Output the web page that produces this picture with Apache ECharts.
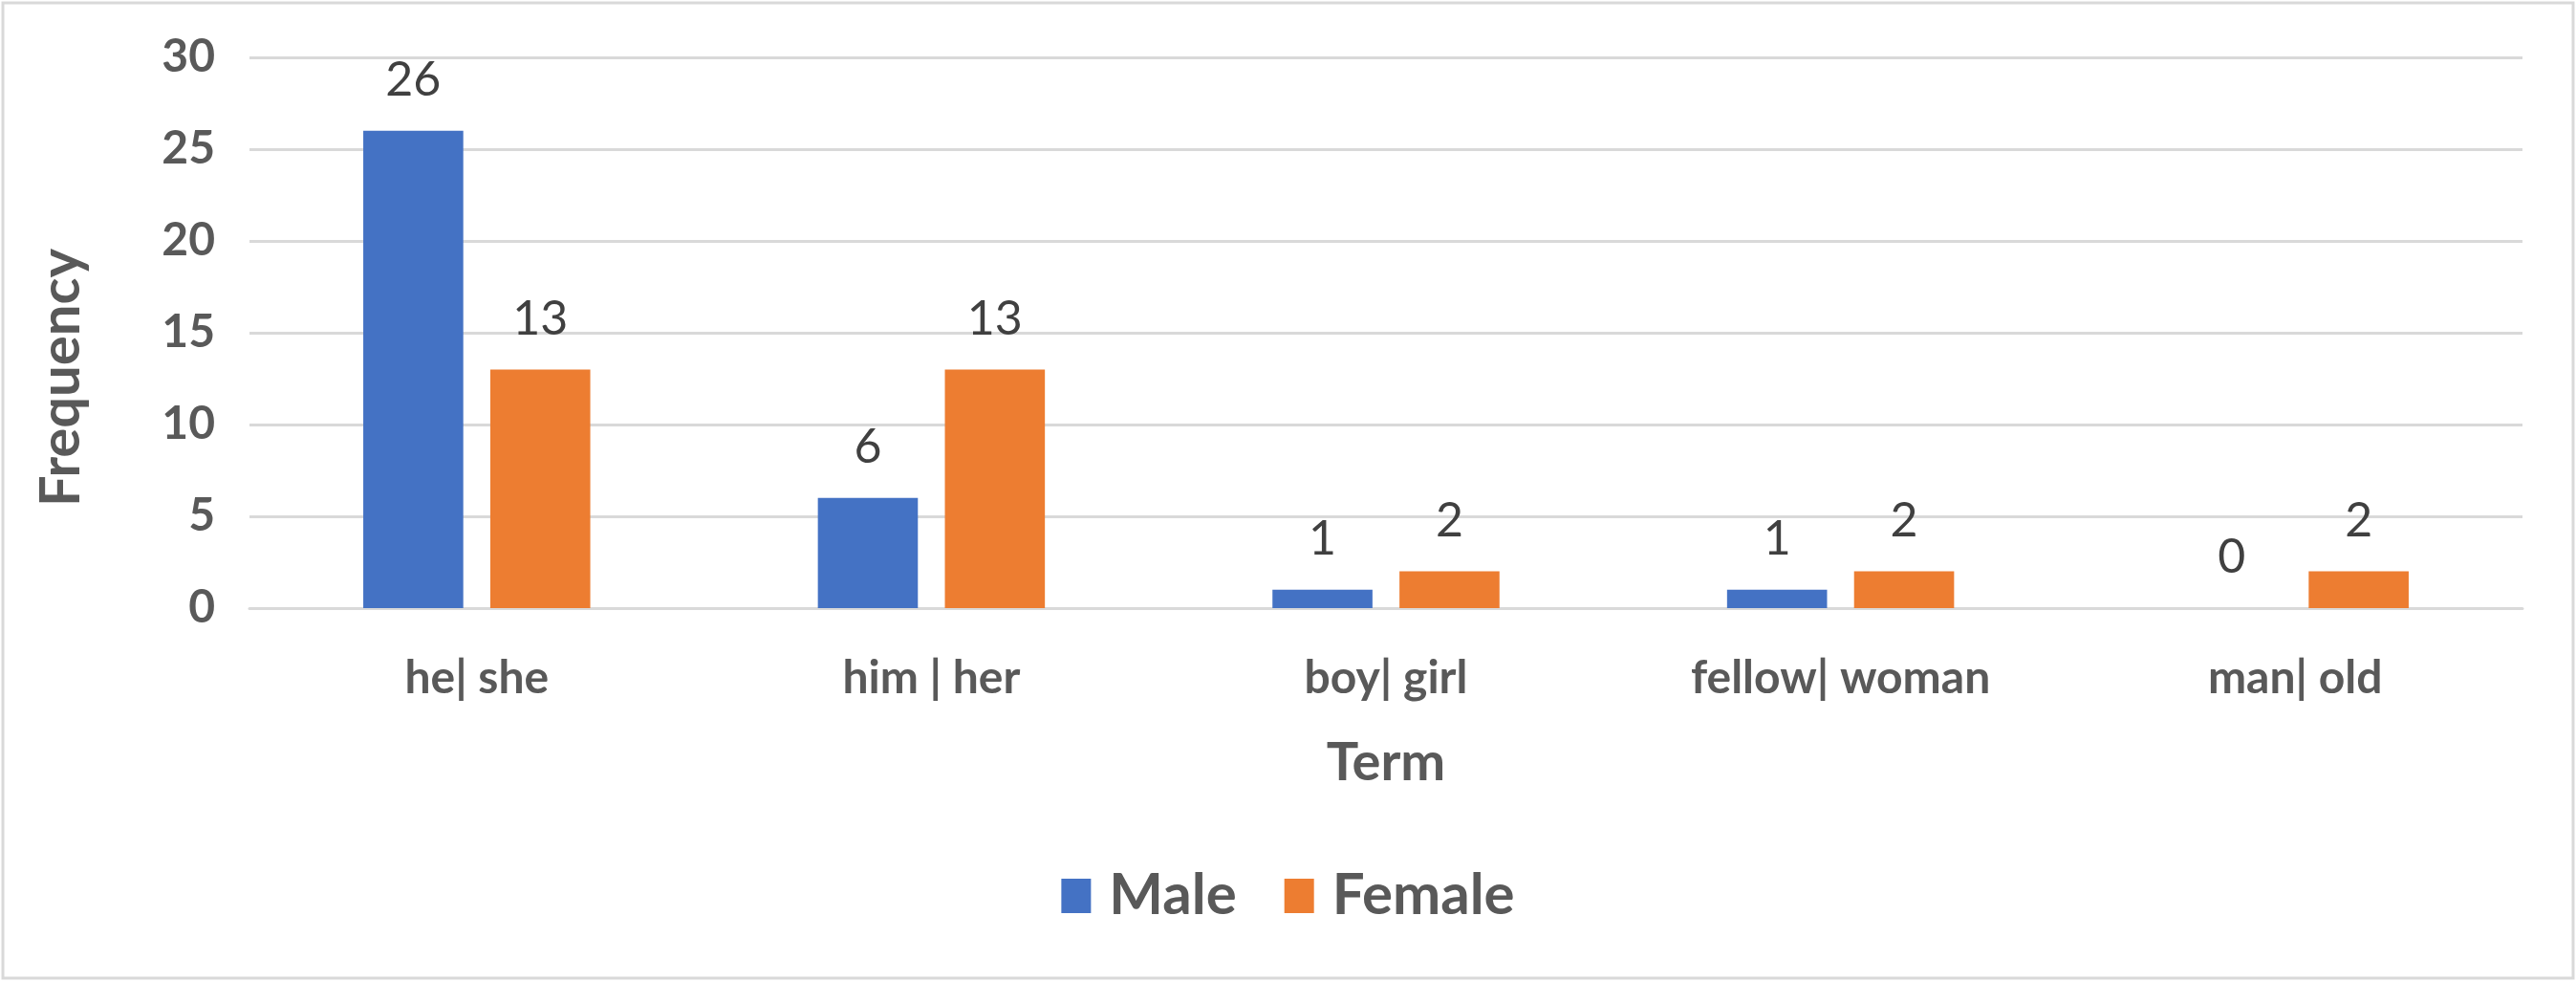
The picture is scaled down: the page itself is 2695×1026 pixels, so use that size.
<!DOCTYPE html>
<html>
<head>
<meta charset="utf-8">
<script src="https://cdn.jsdelivr.net/npm/echarts@6/dist/echarts.min.js"></script>
<style>
  html, body { margin: 0; padding: 0; background: #fff; }
  #main { width: 2695px; height: 1026px; }
</style>
</head>
<body>
<div id="main"></div>
<script>
// data
var terms = ['he| she', 'him | her', 'boy| girl', 'fellow| woman', 'man| old'];
var maleCounts = [26, 6, 1, 1, 0];
var femaleCounts = [13, 13, 2, 2, 2];
var seriesNames = ['Male', 'Female'];

var textColor = '#595959';
var fontName = 'Lato';

var myChart = echarts.init(document.getElementById('main'));

var option = {
    backgroundColor: '#fff',
    animation: false,
    textStyle: { fontFamily: fontName },
    graphic: [{
        type: 'rect',
        shape: { x: 3, y: 3, width: 2689, height: 1020 },
        style: { fill: 'none', stroke: '#d9d9d9', lineWidth: 3 }
    }],
    grid: { left: 261, right: 56, top: 60, bottom: 390 },
    legend: {
        data: seriesNames,
        left: 'center',
        top: 902,
        itemWidth: 31,
        itemHeight: 36,
        itemGap: 50,
        icon: 'rect',
        textStyle: { color: textColor, fontSize: 60, fontWeight: 'bold', fontFamily: fontName, padding: [0, 0, 0, 14] }
    },
    xAxis: {
        type: 'category',
        data: terms,
        name: 'Term',
        nameLocation: 'middle',
        nameGap: 134,
        nameTextStyle: { color: textColor, fontSize: 56, fontWeight: 'bold', fontFamily: fontName },
        axisLine: { lineStyle: { color: '#d9d9d9', width: 3 } },
        axisTick: { show: false },
        axisLabel: { color: textColor, fontSize: 48, fontWeight: 'bold', margin: 50, fontFamily: fontName }
    },
    yAxis: {
        type: 'value',
        min: 0,
        max: 30,
        interval: 5,
        name: 'Frequency',
        nameLocation: 'middle',
        nameGap: 168,
        nameTextStyle: { color: textColor, fontSize: 58, fontWeight: 'bold', fontFamily: fontName, padding: [0, 94, 0, 0] },
        axisLine: { show: false },
        axisTick: { show: false },
        axisLabel: { color: textColor, fontSize: 48, fontWeight: 'bold', margin: 36, fontFamily: fontName },
        splitLine: { lineStyle: { color: '#d9d9d9', width: 3 } }
    },
    series: [
        {
            name: seriesNames[0],
            type: 'bar',
            data: maleCounts,
            barWidth: '22%',
            barGap: '27%',
            itemStyle: { color: '#4472C4' },
            label: { show: true, position: 'top', distance: 28, color: '#404040', fontSize: 50, fontFamily: fontName }
        },
        {
            name: seriesNames[1],
            type: 'bar',
            data: femaleCounts,
            barWidth: '22%',
            barGap: '27%',
            itemStyle: { color: '#ED7D31' },
            label: { show: true, position: 'top', distance: 28, color: '#404040', fontSize: 50, fontFamily: fontName }
        }
    ]
};

myChart.setOption(option);
</script>
</body>
</html>
